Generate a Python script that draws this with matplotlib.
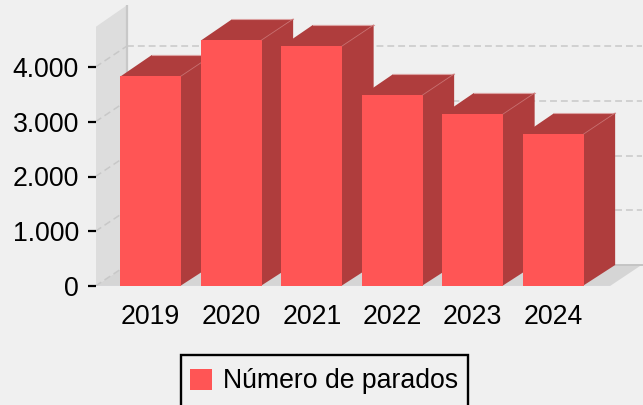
import matplotlib
matplotlib.use('Agg')
import matplotlib.pyplot as plt
from matplotlib.patches import Patch, Polygon, Rectangle

# values
years = ['2019', '2020', '2021', '2022', '2023', '2024']
parados = [3836, 4493, 4384, 3489, 3142, 2776]
y_ticks = [0, 1000, 2000, 3000, 4000]
y_labels = ['0', '1.000', '2.000', '3.000', '4.000']
legend_label = 'Número de parados'

# colours
bg = '#f0f0f0'
front = '#ff5555'
side = '#af3d3d'
wall = '#dddddd'
floor = '#d5d5d5'
grid = '#c8c8c8'

plt.rcParams['font.family'] = ['Liberation Sans', 'DejaVu Sans']

W, H = 643, 405
fig = plt.figure(figsize=(W / 100, H / 100), dpi=100, facecolor=bg)

# axes box in pixels: floor front edge at y=286, left wall front at x=96
left, base = 95.5, 286
ax = fig.add_axes([left / W, (H - base) / H, (W - left) / W, base / H], facecolor='none')

band = 80.5
px_per_unit = 54.75 / 1000
x0_px = 150.75
ax.set_xlim((left - x0_px) / band, (W - x0_px) / band)
ax.set_ylim(0, base / px_per_unit)

# 3d depth in data units
dx = 31.5 / band
dy = 21 / px_per_unit
bar_w = 0.755
xmin, xmax = ax.get_xlim()
ymax_wall = 4730
floor_right = 5.705

# left wall, floor
ax.add_patch(Polygon([(xmin, 0), (xmin + dx, dy), (xmin + dx, ymax_wall + dy + 15), (xmin, ymax_wall)],
                     closed=True, fc=wall, ec='none', zorder=1))
ax.add_patch(Polygon([(xmin, 0), (xmin + dx, dy), (floor_right + dx, dy), (floor_right, 0)],
                     closed=True, fc=floor, ec='none', zorder=1))
ax.plot([xmin + dx, xmin + dx], [dy, ymax_wall + dy + 15], color='#c8c8c8', lw=1.6, zorder=2,
        solid_capstyle='butt')
ax.plot([xmin, floor_right], [0, 0], color='#dcdce8', lw=1, zorder=2)

# dashed gridlines on both walls
for t in y_ticks:
    ax.plot([xmin, xmin + dx], [t, t + dy], color=grid, lw=1.1, dashes=(4.5, 2.6), zorder=2)
    if t == 0:
        ax.plot([xmin + dx, floor_right + dx], [t + dy, t + dy], color='#c4c4c4', lw=1.4, zorder=2)
    else:
        ax.plot([xmin + dx, floor_right + dx], [t + dy, t + dy], color=grid, lw=1.1, dashes=(4.5, 2.6), zorder=2)

# bars, left to right so each one covers the side of the one before
seam = 0.012
for i, v in enumerate(parados):
    xl = i - bar_w / 2
    xr = i + bar_w / 2
    z = 3 + i
    ax.add_patch(Polygon([(xr - seam, 0), (xr + dx, dy), (xr + dx, v + dy), (xr - seam, v)],
                         closed=True, fc=side, ec='none', zorder=z))
    ax.add_patch(Polygon([(xl, v - 10), (xl + dx, v + dy), (xr + dx, v + dy), (xr, v - 10)],
                         closed=True, fc=side, ec='none', zorder=z))
    ax.bar(i, v, width=bar_w, color=front, zorder=z + 0.5)
    # thin light edges at the back of the top face
    ax.plot([xr, xr + dx], [v, v + dy], color='#c87070', lw=0.6, zorder=z + 0.6)
    ax.plot([xl + dx, xr + dx], [v + dy, v + dy], color='#dba0a0', lw=0.8, zorder=z + 0.1)

for s in ax.spines.values():
    s.set_visible(False)
ax.set_xticks(range(len(years)))
ax.set_xticklabels(years, fontsize=19.2, color='black')
ax.set_yticks(y_ticks)
ax.set_yticklabels(y_labels, fontsize=19.2, color='black')
ax.tick_params(axis='x', length=0, pad=13)
ax.tick_params(axis='y', length=5.8, width=1.6, color='black', pad=6)

# legend box runs off the bottom of the figure
fig.add_artist(Rectangle((180.5 / W, -0.05), 287 / W, 1 - 355 / H + 0.05, transform=fig.transFigure,
                         fc='none', ec='black', lw=1.7))
handle = Patch(facecolor=front, edgecolor='none')
leg = fig.legend(handles=[handle], labels=[legend_label], loc='upper left',
                 bbox_to_anchor=(190 / W, 1 - 368.5 / H), bbox_transform=fig.transFigure,
                 fontsize=19.2, frameon=False, borderpad=0, borderaxespad=0,
                 handlelength=0.83, handleheight=0.83, handletextpad=0.42, labelcolor='black')

fig.savefig('out.png', dpi=100, facecolor=bg)
